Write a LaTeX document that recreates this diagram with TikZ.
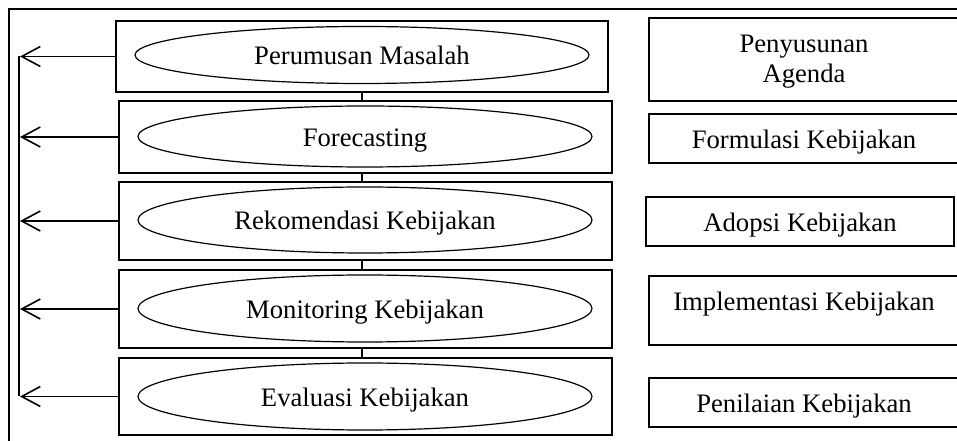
\documentclass[tikz,border=0pt]{standalone}
\usepackage{fontspec}
\setmainfont{Liberation Serif}
\usetikzlibrary{arrows.meta,shapes.geometric}
\begin{document}
\begin{tikzpicture}[x=0.75pt,y=-0.75pt,
  every node/.style={font=\fontsize{20}{22.5}\selectfont, inner sep=0pt, text height=18pt, text depth=3pt},
  lbox/.style={draw, line width=1.1pt, rectangle},
  ell/.style={draw, line width=0.9pt, ellipse},
  rbox/.style={draw, line width=0.8pt, rectangle, align=center},
  link/.style={line width=1.1pt},
  back/.style={line width=1.2pt, -{Straight Barb[length=14pt,width=15pt,line width=1.2pt]}}]
\useasboundingbox (0,0) rectangle (957,441);
\clip (0,0) rectangle (957,441);
% outer frame (cut off by the page edge)
\draw[line width=0.9pt] (9,470) -- (9,9) -- (980,9);
% left boxes
\node[lbox, minimum width=369pt, minimum height=53.25pt] (B1) at (362,56.5) {};
\node[lbox, minimum width=369.75pt, minimum height=54pt] (B2) at (365.5,137) {};
\node[lbox, minimum width=369.75pt, minimum height=58.5pt] (B3) at (365.5,221) {};
\node[lbox, minimum width=369.75pt, minimum height=58.5pt] (B4) at (365.5,309) {};
\node[lbox, minimum width=369.75pt, minimum height=57.75pt] (B5) at (365.5,396.5) {};
% ellipses
\node[ell, minimum width=340.5pt, minimum height=42.75pt] (E1) at (362,55) {Perumusan Masalah};
\node[ell, minimum width=340.5pt, minimum height=45.75pt] (E2) at (365,136.5) {Forecasting};
\node[ell, minimum width=340.5pt, minimum height=49.5pt] (E3) at (365,220) {Rekomendasi Kebijakan};
\node[ell, minimum width=340.5pt, minimum height=50.25pt] (E4) at (365,308.5) {Monitoring Kebijakan};
\node[ell, minimum width=340.5pt, minimum height=50.25pt] (E5) at (365,396.5) {Evaluasi Kebijakan};
% links between boxes
\draw[link] (B1.south) -- (B1.south |- B2.north);
\draw[link] (B1.south |- B2.south) -- (B1.south |- B3.north);
\draw[link] (B1.south |- B3.south) -- (B1.south |- B4.north);
\draw[link] (B1.south |- B4.south) -- (B1.south |- B5.north);
% feedback line
\coordinate (V) at (19,0);
\draw[link] (B1.west -| V) -- (B5.west -| V);
\foreach \b in {B1,B2,B3,B4,B5}{
  \draw[back] (\b.west) -- ([xshift=0.75pt]\b.west -| V);
}
% right boxes
\node[rbox, minimum width=232.5pt, minimum height=62.25pt, text height=38.2pt, text depth=3pt] (R1) at (804,59.5) {Penyusunan\\Agenda};
\node[rbox, minimum width=232.5pt, minimum height=36.75pt] (R2) at (804,138.5) {Formulasi Kebijakan};
\node[rbox, minimum width=231pt, minimum height=36.75pt] (R3) at (800,221.5) {Adopsi Kebijakan};
\node[rbox, minimum width=232.5pt, minimum height=51.75pt, text height=18pt, text depth=18pt] (R4) at (804,310.5) {Implementasi Kebijakan};
\node[rbox, minimum width=232.5pt, minimum height=36.75pt] (R5) at (804,402.5) {Penilaian Kebijakan};
\end{tikzpicture}
\end{document}
